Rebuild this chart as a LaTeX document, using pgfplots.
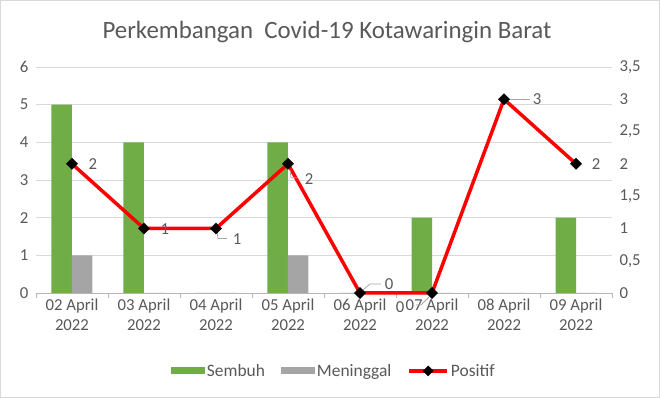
\documentclass[border=0pt]{standalone}
\usepackage{pgfplots}
\pgfplotsset{compat=1.18}
\usepackage{fontspec}
\setmainfont{Carlito}
\definecolor{cgreen}{HTML}{70AD47}
\definecolor{cgray}{HTML}{A5A5A5}
\definecolor{ctext}{HTML}{595959}
\definecolor{cgrid}{HTML}{D9D9D9}
\definecolor{clead}{HTML}{A6A6A6}
\begin{document}
\begin{tikzpicture}
\draw[cgrid, fill=white, line width=0.75bp] (0.4bp,0.4bp) rectangle (659.6bp,397.6bp);
\node[text=ctext, font=\fontsize{25}{28}\selectfont] at (327bp,366bp) {Perkembangan\ \ Covid-19 Kotawaringin Barat};
\begin{axis}[
  at={(36bp,105bp)}, anchor=south west,
  width=576bp, height=226bp, scale only axis,
  xmin=-0.5, xmax=7.5, ymin=0, ymax=6,
  ytick={0,1,...,6},
  axis x line*=bottom, axis y line*=left,
  y axis line style={draw=none},
  x axis line style={cgrid!80!black!90, line width=0.75bp, -},
  ymajorgrids, grid style={cgrid, line width=0.75bp},
  major tick length=0pt,
  xtick={0,...,7},
  xticklabels={{02 April\\2022},{03 April\\2022},{04 April\\2022},{05 April\\2022},{06 April\\2022},{07 April\\2022},{08 April\\2022},{09 April\\2022}},
  xticklabel style={align=center, text=ctext, font=\fontsize{16.8}{20}\selectfont, yshift=-2bp},
  yticklabel style={text=ctext, font=\fontsize{16.8}{18}\selectfont, xshift=-4bp},
  extra x ticks={-0.5,0.5,...,7.5},
  extra x tick labels={},
  extra x tick style={major tick length=5bp, tick align=outside, tick style={cgrid!80!black!90, line width=0.75bp}},
  ybar=0pt, bar width=20.5bp,
  /pgf/number format/assume math mode=true,
  legend style={at={(0.517,-0.345)}, anchor=center, draw=none, fill=none, legend columns=-1,
    font=\fontsize{17.5}{18}\selectfont, text=ctext,
    /tikz/every even column/.append style={column sep=14bp}},
  legend image code/.code={\fill[#1] (0bp,-3.5bp) rectangle (34bp,3.5bp);},
]
\addplot[fill=cgreen, draw=none] coordinates {(0,5) (1,4) (2,0) (3,4) (4,0) (5,2) (6,0) (7,2)};
\addlegendentry{Sembuh}
\addplot[fill=cgray, draw=none] coordinates {(0,1) (1,0) (2,0) (3,1) (4,0) (5,0) (6,0) (7,0)};
\addlegendentry{Meninggal}
\addlegendimage{red, legend image code/.code={\draw[red, line width=3.5bp] (0bp,0bp) -- (38bp,0bp); \fill[black] (19bp,-5bp) -- (24bp,0bp) -- (19bp,5bp) -- (14bp,0bp) -- cycle;}}
\addlegendentry{Positif}
\end{axis}
\begin{axis}[
  at={(36bp,105bp)}, anchor=south west,
  width=576bp, height=226bp, scale only axis,
  xmin=-0.5, xmax=7.5, ymin=0, ymax=3.5,
  ytick={0,0.5,...,3.5},
  axis x line=none, axis y line*=right,
  y axis line style={draw=none},
  major tick length=0pt,
  yticklabel style={text=ctext, font=\fontsize{16.8}{18}\selectfont, xshift=4bp, anchor=west,
    /pgf/number format/.cd, use comma, fixed},
  /pgf/number format/assume math mode=true,
  clip=false,
]
\addplot[red, line width=3.5bp, mark=square*, mark options={draw=black, fill=black, line width=0.3bp, rotate=45}, mark size=4bp]
  coordinates {(0,2) (1,1) (2,1) (3,2) (4,0) (5,0) (6,3) (7,2)};
\tikzset{lbl/.style={text=ctext, font=\fontsize{16.8}{18}\selectfont, inner sep=0pt}}
\node[lbl, xshift=21bp] at (axis cs:0,2) {2};
\node[lbl, xshift=21bp, yshift=-1bp] at (axis cs:1,1) {1};
\draw[clead, line width=0.75bp] ([xshift=1bp,yshift=-3bp]axis cs:2,1) -- ([xshift=2bp,yshift=-10bp]axis cs:2,1) -- ([xshift=11bp,yshift=-10bp]axis cs:2,1);
\node[lbl, xshift=21bp, yshift=-11bp] at (axis cs:2,1) {1};
\draw[clead, line width=0.75bp] ([xshift=2bp,yshift=-6bp]axis cs:3,2) -- ([xshift=3bp,yshift=-14bp]axis cs:3,2) -- ([xshift=10bp,yshift=-14bp]axis cs:3,2);
\node[lbl, xshift=21bp, yshift=-15bp] at (axis cs:3,2) {2};
\draw[clead, line width=0.75bp] ([xshift=3bp,yshift=3bp]axis cs:4,0) -- ([xshift=10bp,yshift=9bp]axis cs:4,0) -- ([xshift=21bp,yshift=9bp]axis cs:4,0);
\node[lbl, xshift=29bp, yshift=9bp] at (axis cs:4,0) {0};
\draw[clead, line width=0.75bp] ([xshift=-3bp,yshift=-4bp]axis cs:5,0) -- ([xshift=-11bp,yshift=-12bp]axis cs:5,0) -- ([xshift=-16bp,yshift=-12bp]axis cs:5,0);
\node[lbl, xshift=-32bp, yshift=-14bp] at (axis cs:5,0) {0};
\draw[clead, line width=0.75bp] ([xshift=5bp]axis cs:6,3) -- ([xshift=26bp]axis cs:6,3);
\node[lbl, xshift=33bp] at (axis cs:6,3) {3};
\node[lbl, xshift=20bp] at (axis cs:7,2) {2};
\end{axis}
\end{tikzpicture}
\end{document}
